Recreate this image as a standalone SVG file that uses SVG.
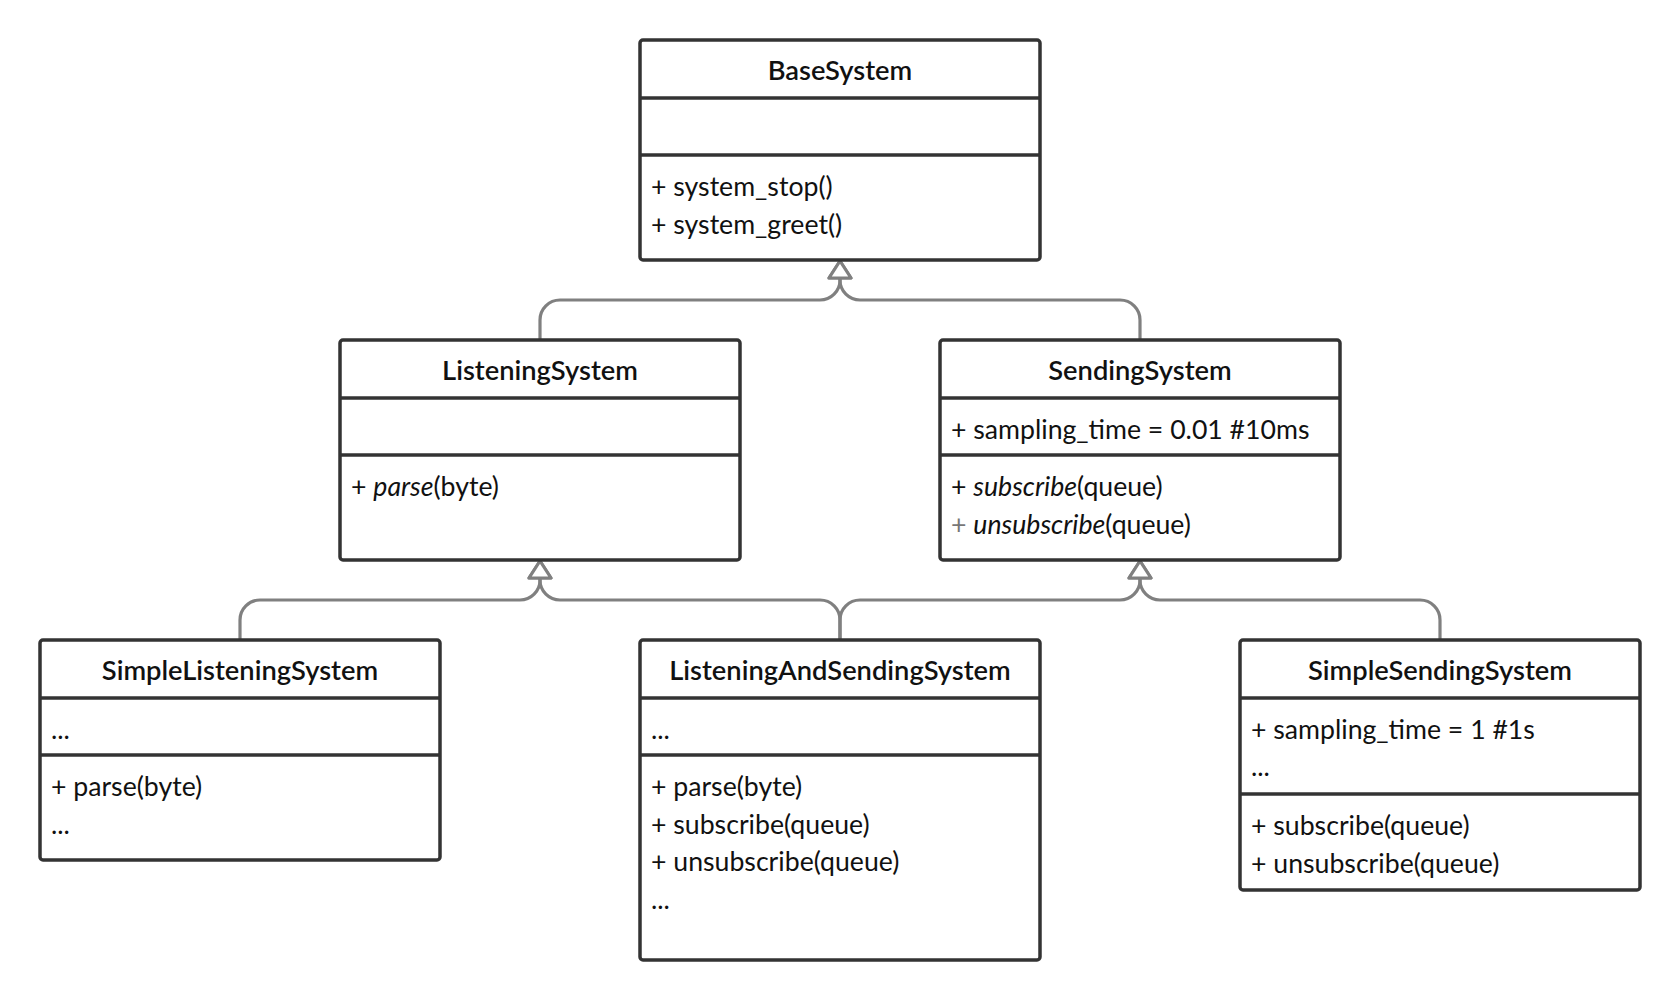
<svg xmlns="http://www.w3.org/2000/svg" width="1680" height="1000" viewBox="0 0 1680 1000">
<style>
.box{fill:#fff;stroke:#333;stroke-width:3.5}
.div{stroke:#333;stroke-width:3.5}
.title{font-family:Lato,"Liberation Sans",sans-serif;font-size:27.3px;font-weight:600;fill:#111;text-anchor:middle}
.t{font-family:Lato,"Liberation Sans",sans-serif;font-size:26.67px;fill:#111}
.it{font-style:italic}
.gray{fill:#777}
.con{fill:none;stroke:#808080;stroke-width:3.2}
</style>
<defs>
<marker id="tri" markerUnits="userSpaceOnUse" viewBox="-3 -14 24 28" refX="0" refY="0" markerWidth="24" markerHeight="28" orient="auto" overflow="visible">
<path d="M0,-11 L17,0 L0,11 Z" fill="#fff" stroke="#808080" stroke-width="3.2" stroke-linejoin="round"/>
</marker>
</defs>
<rect width="1680" height="1000" fill="#fff"/>
<g id="connectors">
<path class="con" d="M540,340 V320 A20,20 0 0 1 560,300 H820 A20,20 0 0 0 840,280 V278" marker-end="url(#tri)"/>
<path class="con" d="M1140,340 V320 A20,20 0 0 0 1120,300 H860 A20,20 0 0 1 840,280 V278" marker-end="url(#tri)"/>
<path class="con" d="M240,640 V620 A20,20 0 0 1 260,600 H520 A20,20 0 0 0 540,580 V578" marker-end="url(#tri)"/>
<path class="con" d="M840,640 V620 A20,20 0 0 0 820,600 H560 A20,20 0 0 1 540,580 V578" marker-end="url(#tri)"/>
<path class="con" d="M840,640 V620 A20,20 0 0 1 860,600 H1120 A20,20 0 0 0 1140,580 V578" marker-end="url(#tri)"/>
<path class="con" d="M1440,640 V620 A20,20 0 0 0 1420,600 H1160 A20,20 0 0 1 1140,580 V578" marker-end="url(#tri)"/>
</g>
<g id="BaseSystem">
<rect class="box" x="640" y="40" width="400" height="220" rx="3"/>
<line class="div" x1="640" y1="98" x2="1040" y2="98"/>
<line class="div" x1="640" y1="155" x2="1040" y2="155"/>
<text class="title" x="840" y="80">BaseSystem</text>
<text class="t" x="651" y="196">+ system_stop()</text>
<text class="t" x="651" y="233.5">+ system_greet()</text>
</g>
<g id="ListeningSystem">
<rect class="box" x="340" y="340" width="400" height="220" rx="3"/>
<line class="div" x1="340" y1="398" x2="740" y2="398"/>
<line class="div" x1="340" y1="455" x2="740" y2="455"/>
<text class="title" x="540" y="380">ListeningSystem</text>
<text class="t" x="351" y="496">+ <tspan class="it">parse</tspan>(byte)</text>
</g>
<g id="SendingSystem">
<rect class="box" x="940" y="340" width="400" height="220" rx="3"/>
<line class="div" x1="940" y1="398" x2="1340" y2="398"/>
<line class="div" x1="940" y1="455" x2="1340" y2="455"/>
<text class="title" x="1140" y="380">SendingSystem</text>
<text class="t" x="951" y="438.5">+ sampling_time = 0.01 #10ms</text>
<text class="t" x="951" y="496">+ <tspan class="it">subscribe</tspan>(queue)</text>
<text class="t" x="951" y="533.5"><tspan class="gray">+</tspan> <tspan class="it">unsubscribe</tspan>(queue)</text>
</g>
<g id="SimpleListeningSystem">
<rect class="box" x="40" y="640" width="400" height="220" rx="3"/>
<line class="div" x1="40" y1="698" x2="440" y2="698"/>
<line class="div" x1="40" y1="755" x2="440" y2="755"/>
<text class="title" x="240" y="680">SimpleListeningSystem</text>
<text class="t" x="51" y="738.5">...</text>
<text class="t" x="51" y="796">+ parse(byte)</text>
<text class="t" x="51" y="833.5">...</text>
</g>
<g id="ListeningAndSendingSystem">
<rect class="box" x="640" y="640" width="400" height="320" rx="3"/>
<line class="div" x1="640" y1="698" x2="1040" y2="698"/>
<line class="div" x1="640" y1="755" x2="1040" y2="755"/>
<text class="title" x="840" y="680">ListeningAndSendingSystem</text>
<text class="t" x="651" y="738.5">...</text>
<text class="t" x="651" y="796">+ parse(byte)</text>
<text class="t" x="651" y="833.5">+ subscribe(queue)</text>
<text class="t" x="651" y="871">+ unsubscribe(queue)</text>
<text class="t" x="651" y="908.5">...</text>
</g>
<g id="SimpleSendingSystem">
<rect class="box" x="1240" y="640" width="400" height="250" rx="3"/>
<line class="div" x1="1240" y1="698" x2="1640" y2="698"/>
<line class="div" x1="1240" y1="794" x2="1640" y2="794"/>
<text class="title" x="1440" y="680">SimpleSendingSystem</text>
<text class="t" x="1251" y="738.5">+ sampling_time = 1 #1s</text>
<text class="t" x="1251" y="776">...</text>
<text class="t" x="1251" y="835">+ subscribe(queue)</text>
<text class="t" x="1251" y="872.5">+ unsubscribe(queue)</text>
</g>
</svg>
